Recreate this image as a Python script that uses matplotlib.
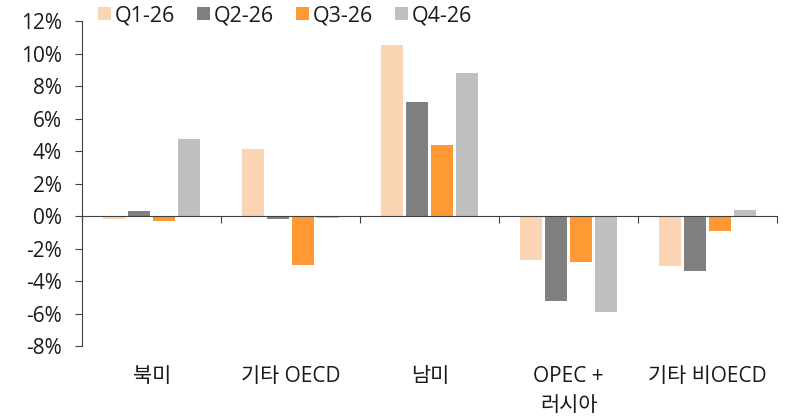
import matplotlib
matplotlib.use("Agg")
import matplotlib.pyplot as plt
import matplotlib.transforms as mtransforms
import numpy as np

plt.rcParams['font.family'] = ['Open Sans', 'Noto Sans CJK KR', 'DejaVu Sans']

categories = ["북미", "기타 OECD", "남미", "OPEC +\n러시아", "기타 비OECD"]
series_names = ["Q1-26", "Q2-26", "Q3-26", "Q4-26"]
q1 = [-0.2, 4.1, 10.5, -2.7, -3.1]
q2 = [0.3, -0.2, 7.0, -5.2, -3.4]
q3 = [-0.3, -3.0, 4.35, -2.8, -0.9]
q4 = [4.75, -0.15, 8.8, -5.9, 0.4]
colors = ["#FBD4B4", "#808080", "#FF9933", "#BFBFBF"]
yticks = [-8, -6, -4, -2, 0, 2, 4, 6, 8, 10, 12]

fig = plt.figure(figsize=(7.85, 4.2), dpi=100)
ax = fig.add_axes([0.105, 0.176, 0.885, 0.774])

x = np.arange(len(categories))
step = 0.18
width = 0.158
for i, (vals, name, c) in enumerate(zip([q1, q2, q3, q4], series_names, colors)):
    ax.bar(x + (i - 1.5) * step, vals, width, color=c, label=name)

ax.set_xlim(-0.5, len(categories) - 0.5)
ax.set_ylim(-8, 12)
ax.set_yticks(yticks)
ax.set_yticklabels([f"{t}%" for t in yticks], fontsize=15, color="#1a1a1a")

for s in ["top", "right"]:
    ax.spines[s].set_visible(False)
ax.spines["left"].set_color("#404040")
ax.spines["bottom"].set_position(("data", 0))
ax.spines["bottom"].set_color("#404040")
ax.tick_params(axis="y", direction="out", length=5, color="#404040", pad=10)
ax.set_xticks(np.arange(len(categories) + 1) - 0.5)
ax.set_xticklabels([])
ax.tick_params(axis="x", direction="out", length=5, color="#404040")

trans = mtransforms.blended_transform_factory(ax.transData, ax.transAxes)
for xi, cat in zip(x, categories):
    ax.text(xi, -0.06, cat, transform=trans, ha="center", va="top",
            fontsize=15, linespacing=1.55, color="#1a1a1a")

leg = ax.legend(loc="upper left", ncol=4, frameon=False,
                prop={'size': 15.5},
                bbox_to_anchor=(0.01, 1.075), handlelength=0.6, handleheight=0.6,
                handletextpad=0.2, columnspacing=1.0, borderaxespad=0)
for t in leg.get_texts():
    t.set_color("#1a1a1a")

fig.savefig("out.png", dpi=100)
